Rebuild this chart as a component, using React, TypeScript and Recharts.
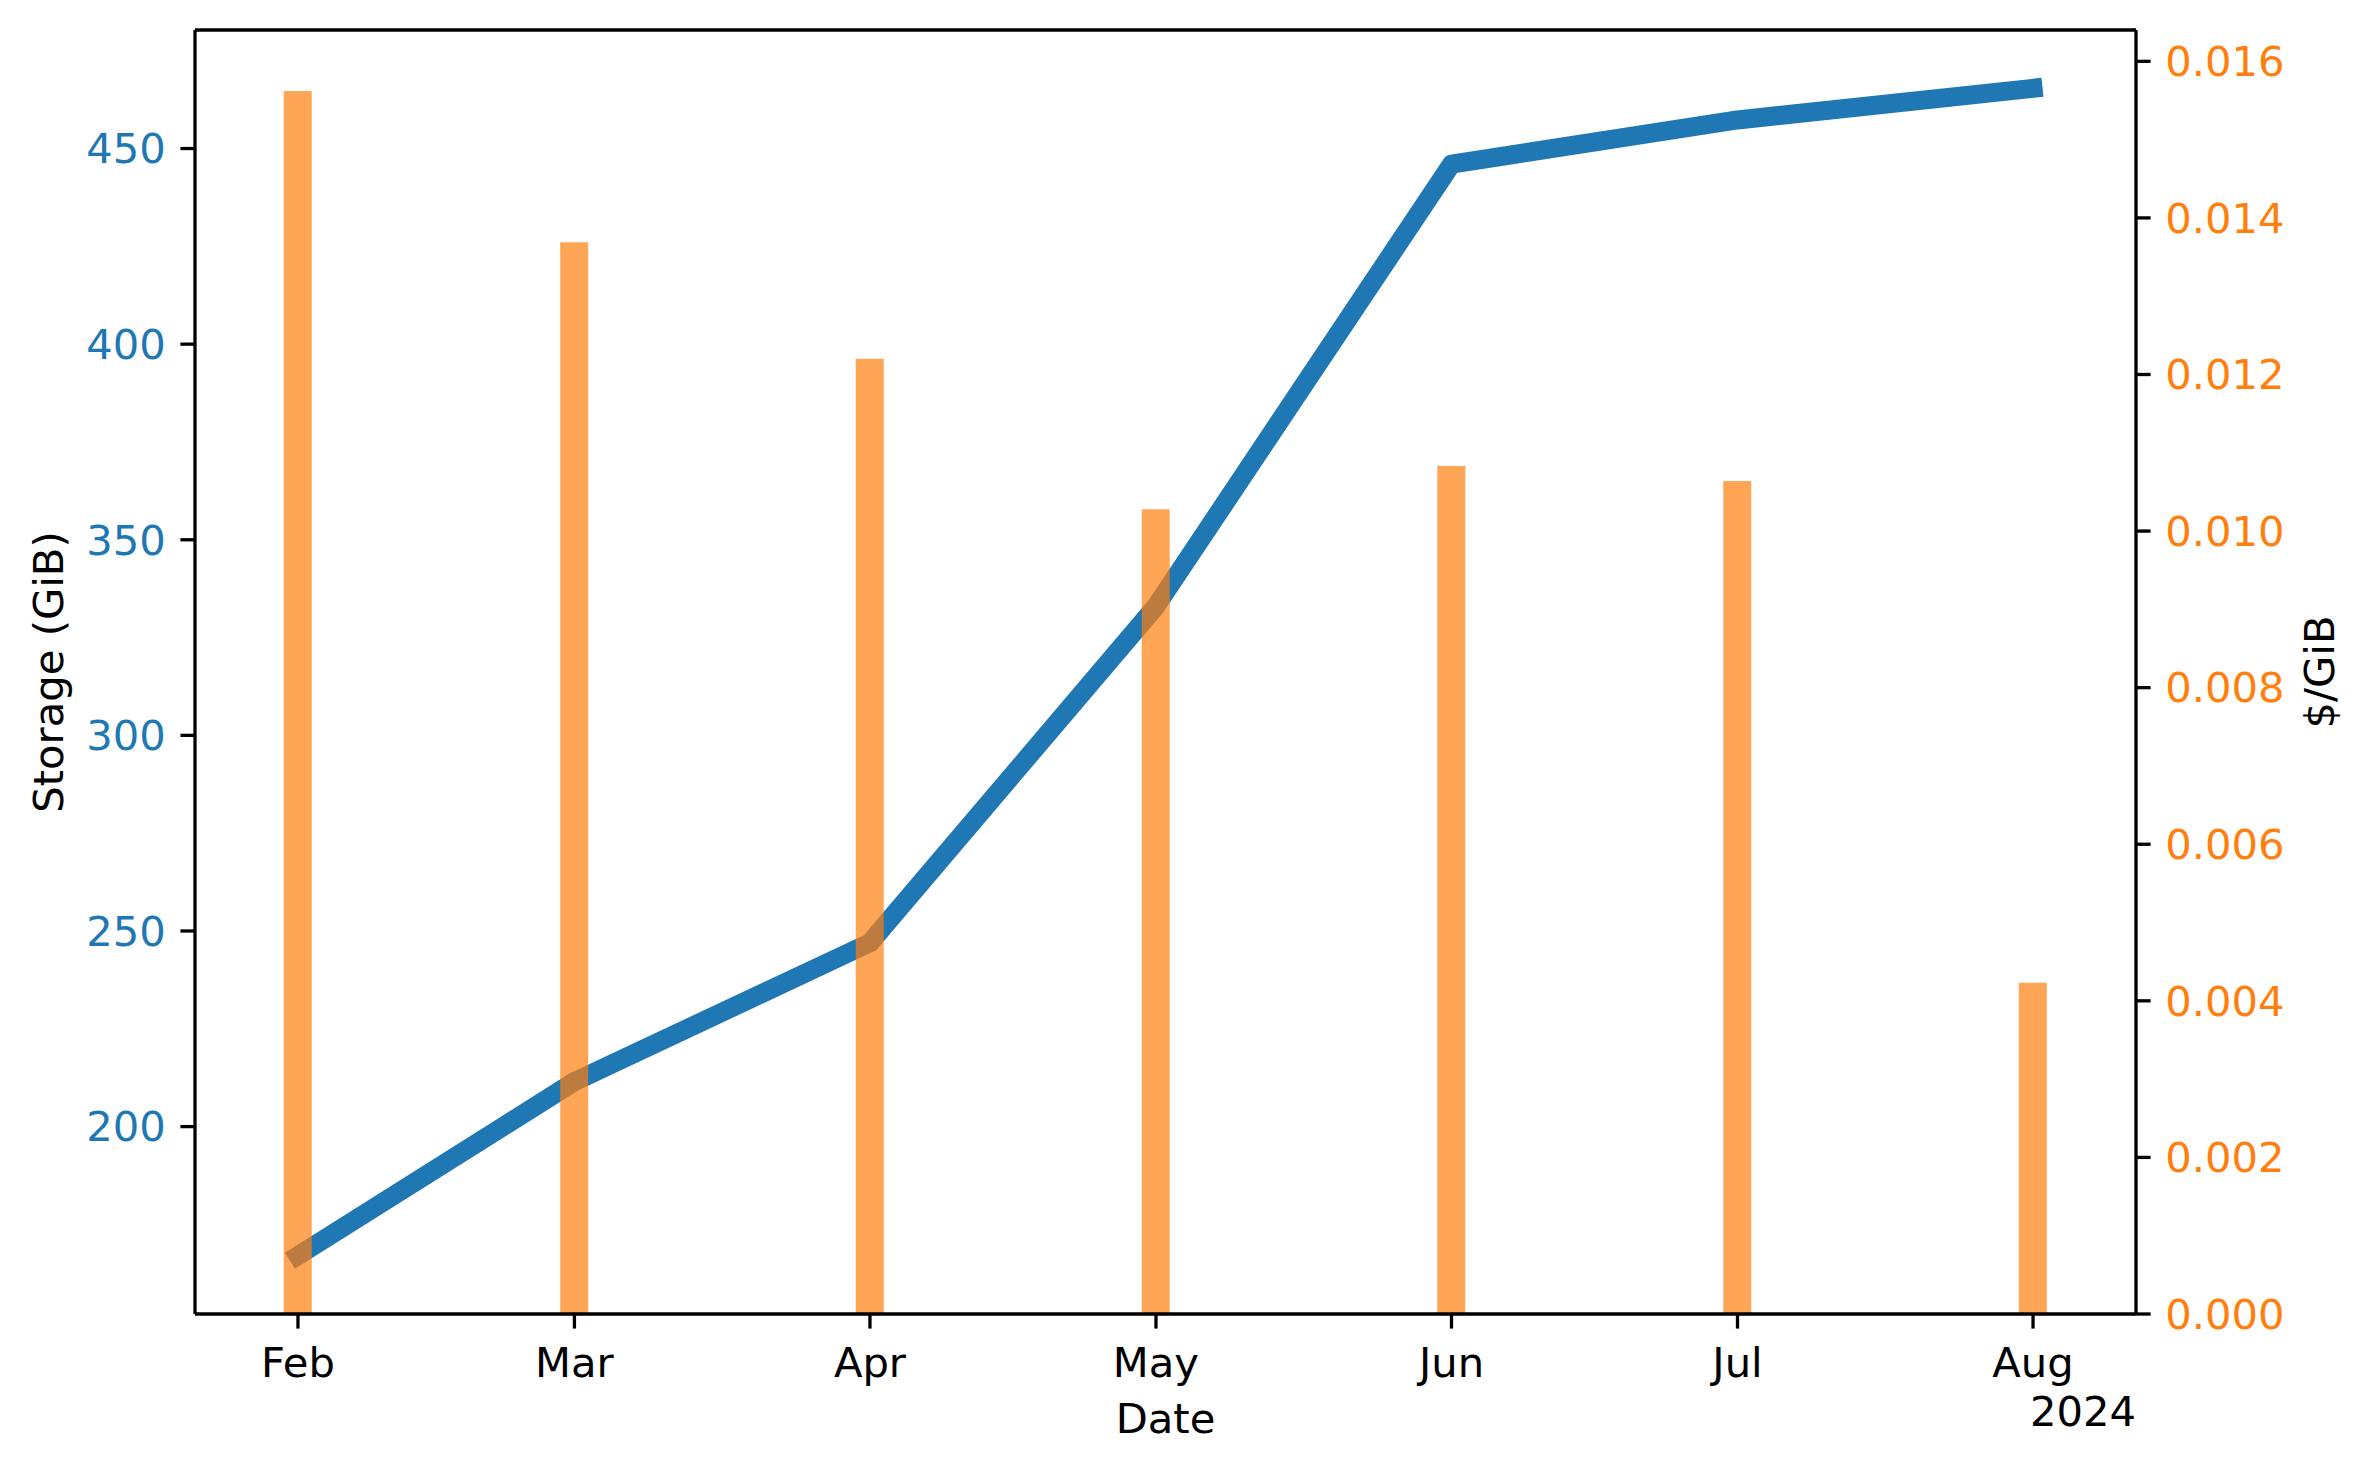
import React from "react";
import { ComposedChart, Bar, Line, XAxis, YAxis, Label, ReferenceLine } from "recharts";

// month starts (2024) and the two series
const months = ["2024-02-01", "2024-03-01", "2024-04-01", "2024-05-01", "2024-06-01", "2024-07-01", "2024-08-01"];
const storageGiB = [167, 211.5, 247, 333, 446, 457.3, 465.4];
const costPerGiB = [0.01562, 0.01369, 0.0122, 0.01028, 0.01083, 0.01064, 0.00423];

const storageTicks = [200, 250, 300, 350, 400, 450];
const costTicks = [0, 0.002, 0.004, 0.006, 0.008, 0.01, 0.012, 0.014, 0.016];

const DAY = 86400000;
const times = months.map((m) => Date.parse(m + "T00:00:00Z"));
const data = times.map((t, i) => ({ t, storage: storageGiB[i], cost: costPerGiB[i] }));
const xDomain = [times[0] - 10.8 * DAY, times[times.length - 1] + 10.8 * DAY];
const storageDomain = [152.1, 480.3];

const FONT = "'DejaVu Sans', sans-serif";
const FS = 41.7;
const BLUE = "#1f77b4";
const ORANGE = "#ff7f0e";
const AX = { stroke: "#000", strokeWidth: 3.3 };

const monthName = (v: number) => new Date(v).toLocaleString("en-US", { month: "short", timeZone: "UTC" });

const StorageTitle = (props: any) => {
  const vb = props.viewBox || { x: 0, y: 30, width: 195, height: 1284 };
  const x = vb.x + 48;
  const y = vb.y + vb.height / 2;
  return (
    <text x={x} y={y} transform={`rotate(-90, ${x}, ${y})`} textAnchor="middle" dominantBaseline="central"
      fontFamily={FONT} fontSize={FS} fill="#000">
      Storage (GiB)
    </text>
  );
};

const CostTitle = (props: any) => {
  const vb = props.viewBox || { x: 2136, y: 30, width: 234, height: 1284 };
  const x = vb.x + 183;
  const y = vb.y + vb.height / 2;
  return (
    <text x={x} y={y} transform={`rotate(-90, ${x}, ${y})`} textAnchor="middle" dominantBaseline="central"
      fontFamily={FONT} fontSize={FS} fill="#000">
      $/GiB
    </text>
  );
};

const DateTitle = (props: any) => {
  const vb = props.viewBox || { x: 195, y: 1314, width: 1941, height: 156 };
  return (
    <g fontFamily={FONT} fontSize={FS} fill="#000">
      <text x={vb.x + vb.width / 2} y={vb.y + 119} textAnchor="middle">Date</text>
      <text x={vb.x + vb.width} y={vb.y + 112} textAnchor="end">2024</text>
    </g>
  );
};

export default function App() {
  return (
    <div style={{ position: "absolute", left: 0, top: 0, width: 2370, height: 1470, background: "#fff" }}>
      <ComposedChart width={2370} height={1470} data={data} margin={{ top: 30, right: 0, bottom: 0, left: 0 }}>
        <XAxis
          xAxisId="x"
          dataKey="t"
          type="number"
          scale="linear"
          domain={xDomain}
          ticks={times}
          tickFormatter={monthName}
          height={156}
          axisLine={AX}
          tickLine={AX}
          tickSize={14.6}
          tickMargin={19}
          tick={{ fill: "#000", fontFamily: FONT, fontSize: FS }}
          allowDataOverflow
        >
          <Label content={DateTitle} />
        </XAxis>
        <YAxis
          yAxisId="left"
          type="number"
          domain={storageDomain}
          ticks={storageTicks}
          width={195}
          axisLine={AX}
          tickLine={AX}
          tickSize={14.6}
          tickMargin={14.6}
          tick={{ fill: BLUE, fontFamily: FONT, fontSize: FS }}
          allowDataOverflow
        >
          <Label content={StorageTitle} />
        </YAxis>
        <YAxis
          yAxisId="right"
          orientation="right"
          type="number"
          domain={[0, 0.0164]}
          ticks={costTicks}
          tickFormatter={(v: number) => v.toFixed(3)}
          width={234}
          axisLine={AX}
          tickLine={AX}
          tickSize={14.6}
          tickMargin={14.6}
          tick={{ fill: ORANGE, fontFamily: FONT, fontSize: FS }}
          allowDataOverflow
        >
          <Label content={CostTitle} />
        </YAxis>
        {/* top spine */}
        <ReferenceLine xAxisId="x" yAxisId="left" y={storageDomain[1]} stroke="#000" strokeWidth={3.3} ifOverflow="visible" />
        <Line
          xAxisId="x"
          yAxisId="left"
          type="linear"
          dataKey="storage"
          stroke={BLUE}
          strokeWidth={19}
          strokeLinecap="square"
          strokeLinejoin="round"
          dot={false}
          activeDot={false}
          zIndex={250}
          isAnimationActive={false}
        />
        <Bar
          xAxisId="x"
          yAxisId="right"
          dataKey="cost"
          fill={ORANGE}
          fillOpacity={0.7}
          barSize={28}
          isAnimationActive={false}
        />
      </ComposedChart>
    </div>
  );
}
